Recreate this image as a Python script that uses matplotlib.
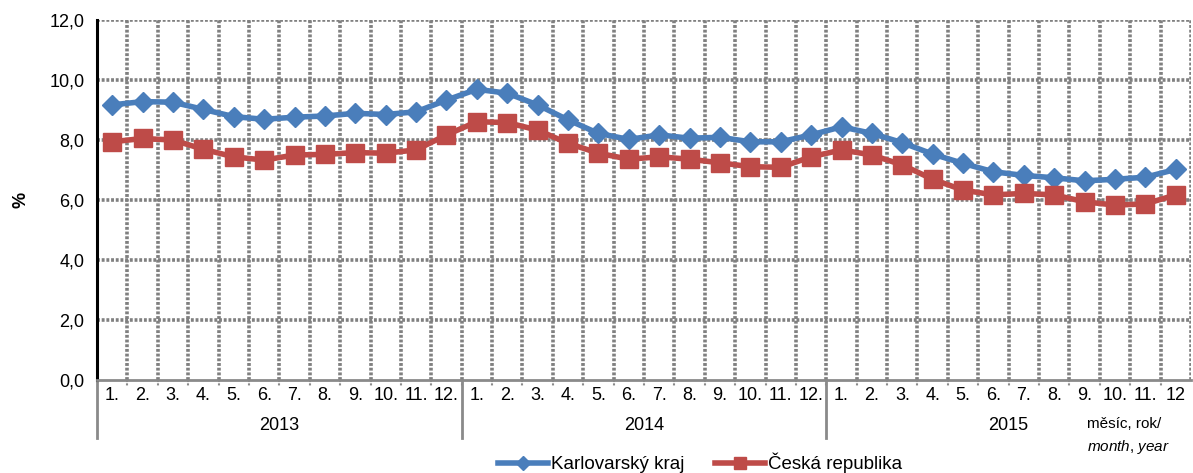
import matplotlib
matplotlib.use("Agg")
import matplotlib.pyplot as plt
from matplotlib.lines import Line2D
import matplotlib.transforms as mtransforms

plt.rcParams['font.family'] = ['Liberation Sans', 'DejaVu Sans']
plt.rcParams['mathtext.fontset'] = 'custom'
plt.rcParams['mathtext.it'] = 'Liberation Sans:italic'
plt.rcParams['mathtext.rm'] = 'Liberation Sans'

months = ["1.", "2.", "3.", "4.", "5.", "6.", "7.", "8.", "9.", "10.", "11.", "12."]
years = ["2013", "2014", "2015"]
month_labels = months * 3
month_labels[-1] = "12"

karlovarsky = [9.17, 9.28, 9.26, 9.02, 8.78, 8.69, 8.76, 8.80, 8.89, 8.85, 8.94, 9.33,
               9.69, 9.56, 9.17, 8.67, 8.22, 8.02, 8.17, 8.06, 8.09, 7.94, 7.94, 8.17,
               8.44, 8.22, 7.91, 7.53, 7.22, 6.94, 6.82, 6.74, 6.64, 6.69, 6.76, 7.02]
cr = [7.94, 8.05, 8.00, 7.69, 7.44, 7.33, 7.50, 7.52, 7.58, 7.56, 7.67, 8.17,
      8.61, 8.58, 8.33, 7.89, 7.56, 7.36, 7.44, 7.36, 7.24, 7.11, 7.09, 7.44,
      7.67, 7.50, 7.17, 6.69, 6.33, 6.17, 6.22, 6.17, 5.94, 5.83, 5.87, 6.17]

series_names = ["Karlovarský kraj", "Česká republika"]
blue = "#4A7EBB"
red = "#BE4B48"

W, H = 1193, 473
fig = plt.figure(figsize=(W / 100, H / 100), dpi=100)
ax = fig.add_axes([97 / W, 1 - 380 / H, (1191 - 97) / W, (380 - 20) / H])

x = list(range(len(month_labels)))
n = len(x)

# grid
grid_kw = dict(color="#808080", lw=2.6, linestyle=(0, (0.8, 0.5)), zorder=1)
for k in range(1, n + 1):
    ax.axvline(k - 0.5, **grid_kw)
for v in range(2, 13, 2):
    ax.axhline(v, **grid_kw)

ax.plot(x, karlovarsky, color=blue, lw=4.0, marker="D", markersize=10.5,
        markeredgecolor=blue, zorder=3, label=series_names[0])
ax.plot(x, cr, color=red, lw=4.0, marker="s", markersize=12.5,
        markeredgecolor=red, zorder=3, label=series_names[1])

ax.set_xlim(-0.5, n - 0.5)
ax.set_ylim(0, 12)
ax.set_yticks(range(0, 13, 2))
ax.set_yticklabels([f"{v:.1f}".replace(".", ",") for v in range(0, 13, 2)], fontsize=13)
ax.tick_params(axis="y", length=0, pad=9)
ax.set_xticks([])

for s in ["top", "right"]:
    ax.spines[s].set_visible(False)
ax.spines["left"].set_color("black")
ax.spines["left"].set_linewidth(2.2)
ax.spines["bottom"].set_color("#8a8a8a")
ax.spines["bottom"].set_linewidth(2.0)

ax.set_ylabel("%", fontsize=13, fontweight="bold", labelpad=14)

trans = mtransforms.blended_transform_factory(ax.transData, fig.transFigure)
def fy(py):
    return 1 - py / H

# small ticks at category boundaries
for k in range(1, n):
    ax.plot([k - 0.5, k - 0.5], [fy(380), fy(386)], transform=trans, color="#8a8a8a",
            lw=1.5, linestyle=(0, (1, 0.6)), clip_on=False)

for i, lab in enumerate(month_labels):
    ax.text(i, fy(395), lab, transform=trans, ha="center", va="center", fontsize=13)

for j, yr in enumerate(years):
    ax.text(j * 12 + 5.5, fy(425), yr, transform=trans, ha="center", va="center", fontsize=13)
    ax.plot([j * 12 - 0.5, j * 12 - 0.5], [fy(380), fy(438)], transform=trans,
            color="#8a8a8a", lw=2.0, clip_on=False)

fig.text(1087 / W, fy(424), "měsíc, rok/", ha="left", va="center", fontsize=11)
fig.text(1087 / W, fy(447), r"$\it{month}$, $\it{year}$", ha="left", va="center", fontsize=11)

handles = [Line2D([], [], color=blue, lw=4.0, marker="D", markersize=7),
           Line2D([], [], color=red, lw=4.0, marker="s", markersize=9)]
fig.legend(handles, series_names, loc="center", bbox_to_anchor=(700 / W, fy(463)), ncol=2,
           frameon=False, fontsize=13.5, handlelength=2.7, handletextpad=0.15, columnspacing=1.6,
           borderpad=0)

fig.savefig("out.png", dpi=100)
